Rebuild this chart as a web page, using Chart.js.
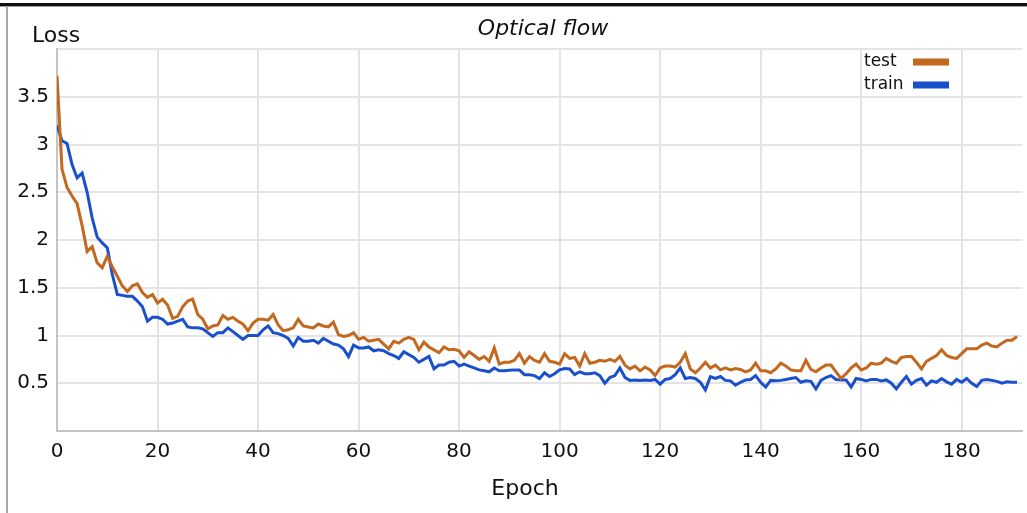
<!DOCTYPE html>
<html>
<head>
<meta charset="utf-8">
<script src="https://cdn.jsdelivr.net/npm/chart.js@4"></script>
<style>
  html, body { margin: 0; padding: 0; background: #fff; }
  #wrap { position: relative; width: 1027px; height: 513px; overflow: hidden; background: #fff; }
  #topbar { position: absolute; left: 0; top: 3px; width: 1027px; height: 3px; background: #111; }
  #topshade { position: absolute; left: 0; top: 6px; width: 1027px; height: 1px; background: #9a9a9a; }
  #leftbar { position: absolute; left: 6px; top: 6px; width: 2px; height: 507px; background: #a8a8a8; }
  canvas { position: absolute; left: 0; top: 0; }
</style>
</head>
<body>
<div id="wrap">
  <div id="topbar"></div>
  <div id="topshade"></div>
  <div id="leftbar"></div>
  <canvas id="c" width="1027" height="513"></canvas>
</div>
<script>
// Loss per epoch for the optical-flow model
const epochs = Array.from({ length: 192 }, (_, i) => i);

const testLoss = [
  3.72, 2.74, 2.55, 2.46, 2.38, 2.15, 1.88, 1.93, 1.76, 1.71,
  1.83, 1.72, 1.62, 1.52, 1.46, 1.52, 1.54, 1.45, 1.40, 1.43,
  1.34, 1.38, 1.32, 1.18, 1.20, 1.30, 1.36, 1.38, 1.22, 1.17,
  1.07, 1.10, 1.11, 1.21, 1.17, 1.19, 1.15, 1.12, 1.05, 1.13,
  1.17, 1.17, 1.16, 1.22, 1.11, 1.05, 1.06, 1.08, 1.17, 1.10,
  1.09, 1.08, 1.12, 1.10, 1.09, 1.14, 1.01, 0.99, 1.00, 1.03,
  0.96, 0.98, 0.94, 0.95, 0.96, 0.91, 0.86, 0.94, 0.92, 0.96,
  0.98, 0.96, 0.85, 0.93, 0.88, 0.85, 0.82, 0.88, 0.85, 0.855,
  0.84, 0.77, 0.83, 0.79, 0.75, 0.78, 0.73, 0.87, 0.70, 0.72,
  0.72, 0.74, 0.81, 0.71, 0.78, 0.74, 0.72, 0.81, 0.73, 0.72,
  0.70, 0.81, 0.76, 0.77, 0.68, 0.81, 0.71, 0.72, 0.74, 0.73,
  0.75, 0.73, 0.78, 0.69, 0.65, 0.68, 0.63, 0.67, 0.64, 0.58,
  0.66, 0.68, 0.68, 0.67, 0.72, 0.81, 0.65, 0.61, 0.66, 0.72,
  0.66, 0.69, 0.64, 0.66, 0.64, 0.655, 0.645, 0.62, 0.64, 0.71,
  0.63, 0.63, 0.61, 0.65, 0.71, 0.68, 0.64, 0.63, 0.63, 0.74,
  0.645, 0.62, 0.66, 0.69, 0.69, 0.62, 0.55, 0.60, 0.66, 0.70,
  0.64, 0.66, 0.71, 0.70, 0.71, 0.76, 0.73, 0.71, 0.77, 0.78,
  0.78, 0.72, 0.65, 0.73, 0.76, 0.79, 0.85, 0.79, 0.77, 0.76,
  0.81, 0.86, 0.86, 0.86, 0.90, 0.92, 0.89, 0.88, 0.92, 0.95,
  0.95, 0.99
];

const trainLoss = [
  3.20, 3.04, 3.01, 2.79, 2.65, 2.70, 2.50, 2.23, 2.03, 1.97,
  1.92, 1.64, 1.43, 1.42, 1.41, 1.41, 1.36, 1.30, 1.15, 1.19,
  1.19, 1.17, 1.12, 1.13, 1.15, 1.17, 1.09, 1.08, 1.08, 1.07,
  1.03, 0.99, 1.03, 1.03, 1.08, 1.04, 1.00, 0.96, 1.00, 1.00,
  1.00, 1.06, 1.10, 1.03, 1.02, 1.00, 0.97, 0.89, 0.98, 0.94,
  0.94, 0.95, 0.92, 0.97, 0.94, 0.91, 0.90, 0.86, 0.78, 0.90,
  0.87, 0.87, 0.88, 0.84, 0.85, 0.84, 0.81, 0.79, 0.76, 0.83,
  0.80, 0.77, 0.72, 0.75, 0.78, 0.65, 0.69, 0.69, 0.72, 0.73,
  0.68, 0.70, 0.68, 0.66, 0.64, 0.63, 0.62, 0.66, 0.63, 0.63,
  0.635, 0.64, 0.64, 0.59, 0.59, 0.58, 0.55, 0.61, 0.57, 0.60,
  0.64, 0.655, 0.65, 0.59, 0.62, 0.60, 0.60, 0.61, 0.58, 0.50,
  0.56, 0.58, 0.66, 0.56, 0.53, 0.535, 0.53, 0.535, 0.53, 0.54,
  0.49, 0.54, 0.55, 0.59, 0.66, 0.55, 0.56, 0.55, 0.51, 0.43,
  0.57, 0.55, 0.57, 0.53, 0.525, 0.48, 0.51, 0.535, 0.54, 0.58,
  0.51, 0.46, 0.53, 0.525, 0.53, 0.54, 0.55, 0.56, 0.51, 0.525,
  0.52, 0.44, 0.53, 0.56, 0.58, 0.54, 0.535, 0.535, 0.46, 0.55,
  0.54, 0.525, 0.54, 0.54, 0.525, 0.535, 0.50, 0.44, 0.51, 0.57,
  0.49, 0.53, 0.55, 0.48, 0.525, 0.51, 0.55, 0.515, 0.49, 0.54,
  0.51, 0.55, 0.50, 0.465, 0.53, 0.54, 0.53, 0.52, 0.50, 0.515,
  0.51, 0.51
];

const seriesNames = ['test', 'train'];
const seriesColors = ['#c2681f', '#1a50cc'];
const chartTitle = 'Optical flow';
const yAxisTitle = 'Loss';
const xAxisTitle = 'Epoch';
const xTickValues = [0, 20, 40, 60, 80, 100, 120, 140, 160, 180];
const yTickValues = [0.5, 1, 1.5, 2, 2.5, 3, 3.5];

const FONT = '"DejaVu Sans", "Liberation Sans", sans-serif';

// Title, axis captions and the legend (text on the left, swatch on the right)
const captions = {
  id: 'captions',
  afterDraw(chart) {
    const ctx = chart.ctx;
    ctx.save();
    ctx.fillStyle = '#111';
    ctx.textBaseline = 'alphabetic';

    ctx.font = 'oblique 22px ' + FONT;
    ctx.textAlign = 'center';
    ctx.fillText(chartTitle, 543, 35);

    ctx.font = '22px ' + FONT;
    ctx.textAlign = 'left';
    ctx.fillText(yAxisTitle, 32, 42);

    ctx.font = '22px ' + FONT;
    ctx.textAlign = 'center';
    ctx.fillText(xAxisTitle, 525, 495);

    ctx.font = '17px ' + FONT;
    ctx.textAlign = 'left';
    ctx.textBaseline = 'middle';
    chart.data.datasets.forEach((ds, i) => {
      const y = 62 + i * 23;
      ctx.fillStyle = '#111';
      ctx.fillText(ds.label, 864, y);
      ctx.fillStyle = ds.borderColor;
      ctx.fillRect(913, y - 3.5, 36, 7);
    });
    ctx.restore();
  }
};

const toPoints = vals => vals.map((v, i) => ({ x: epochs[i], y: v }));

new Chart(document.getElementById('c'), {
  type: 'line',
  data: {
    datasets: [
      { label: seriesNames[0], data: toPoints(testLoss), borderColor: seriesColors[0], borderWidth: 3, pointRadius: 0, tension: 0 },
      { label: seriesNames[1], data: toPoints(trainLoss), borderColor: seriesColors[1], borderWidth: 3, pointRadius: 0, tension: 0 }
    ]
  },
  options: {
    responsive: false,
    animation: false,
    devicePixelRatio: 1,
    layout: { padding: { left: 0, top: 49, right: 5, bottom: 0 } },
    plugins: { legend: { display: false }, title: { display: false }, tooltip: { enabled: false } },
    scales: {
      x: {
        type: 'linear',
        min: 0,
        max: 192,
        afterFit: s => { s.height = 82; s.paddingRight = 0; },
        afterBuildTicks: s => { s.ticks = xTickValues.map(v => ({ value: v })); },
        ticks: { color: '#111', font: { family: FONT, size: 20 }, padding: 9, maxRotation: 0, autoSkip: false },
        grid: { color: '#e4e4e4', lineWidth: 2, drawTicks: false },
        border: { color: '#c4c4c4', width: 2 }
      },
      y: {
        min: 0,
        max: 4,
        afterFit: s => { s.width = 57; },
        afterBuildTicks: s => { s.ticks = [0, ...yTickValues, 4].map(v => ({ value: v })); },
        ticks: {
          color: '#111',
          font: { family: FONT, size: 20 },
          padding: 8,
          callback: v => (yTickValues.includes(v) ? String(v) : '')
        },
        grid: { color: '#e4e4e4', lineWidth: 2, drawTicks: false },
        border: { color: '#c4c4c4', width: 2 }
      }
    }
  },
  plugins: [captions]
});
</script>
</body>
</html>
